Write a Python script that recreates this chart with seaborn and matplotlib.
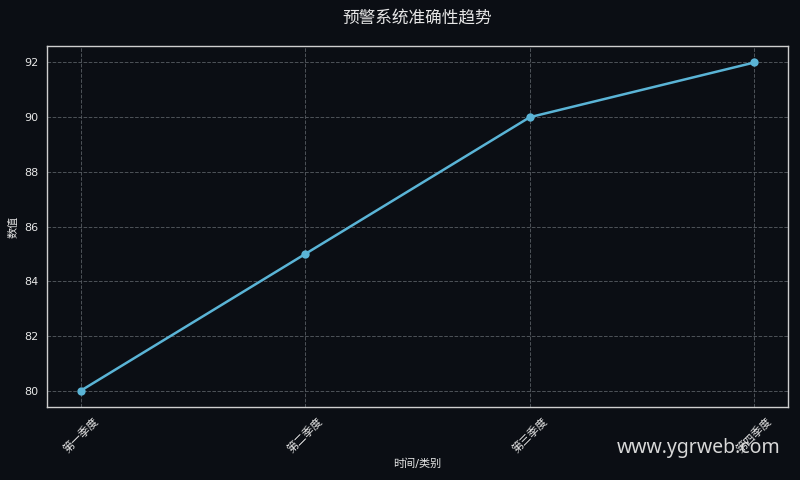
import matplotlib
matplotlib.use("Agg")
import matplotlib.pyplot as plt
import seaborn as sns
import pandas as pd

# 数据
categories = ["第一季度", "第二季度", "第三季度", "第四季度"]
values = [80, 85, 90, 92]

BG = "#0b0e14"
FG = "#e6e6e6"
LINE = "#5ab4d6"

sns.set_theme(style="dark")
plt.rcParams['font.family'] = ['DejaVu Sans', 'Noto Sans CJK SC']
plt.rcParams['axes.unicode_minus'] = False

df = pd.DataFrame({"类别": categories, "数值": values})

fig, ax = plt.subplots(figsize=(8, 4.8), dpi=100)
fig.patch.set_facecolor(BG)
ax.set_facecolor(BG)

sns.lineplot(data=df, x="类别", y="数值", ax=ax, color=LINE, linewidth=1.8,
             marker="o", markersize=6, markeredgewidth=0, sort=False)

ax.set_title("预警系统准确性趋势", color=FG, fontsize=12, pad=16)
ax.set_xlabel("时间/类别", color=FG, fontsize=8, labelpad=2)
ax.set_ylabel("数值", color=FG, fontsize=8)
ax.tick_params(colors=FG, labelsize=8, length=3, width=0.8)
plt.setp(ax.get_xticklabels(), rotation=45)
ax.grid(True, linestyle="--", color="#555a60", linewidth=0.7, alpha=0.9)
for s in ax.spines.values():
    s.set_color("#cfcfcf")
    s.set_linewidth(1)

fig.subplots_adjust(left=0.059, right=0.985, top=0.904, bottom=0.152)
fig.text(0.976, 0.067, "www.ygrweb.com", color="#d8d8d8", fontsize=14,
         ha="right", va="center", family=["Noto Sans", "DejaVu Sans"])

plt.savefig("out.png", dpi=100, facecolor=BG)
plt.close()
